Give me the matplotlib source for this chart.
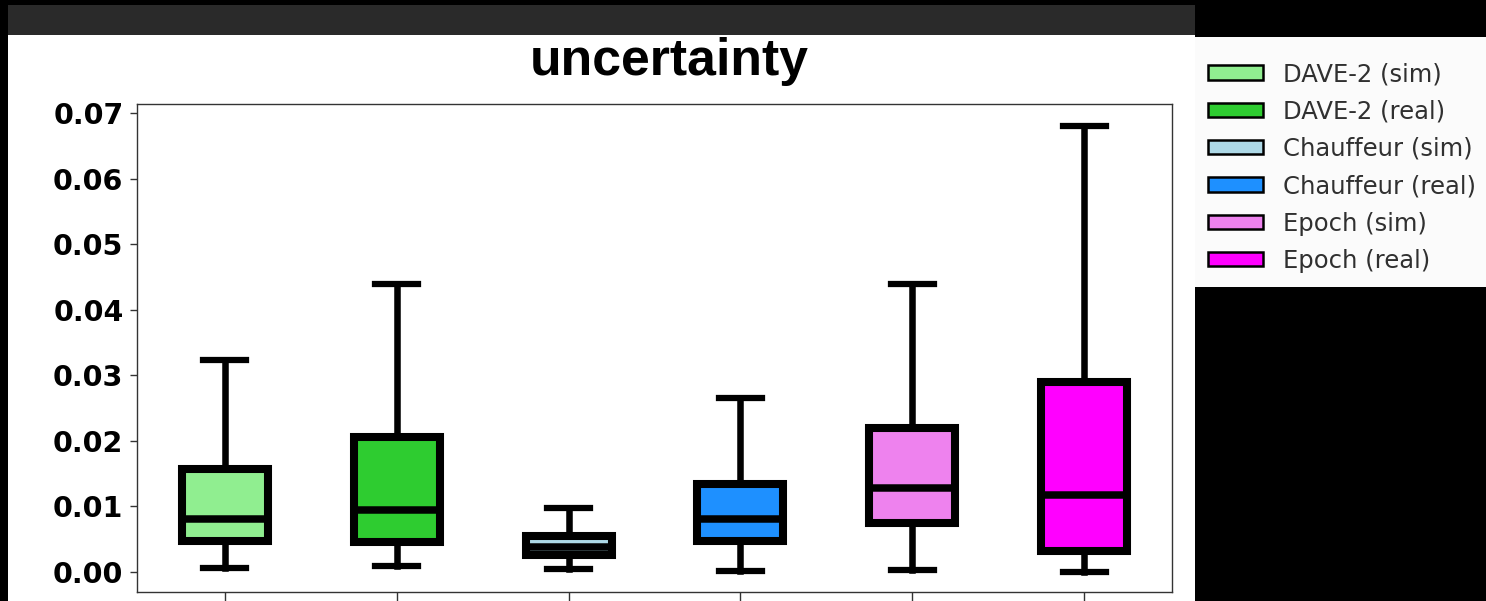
import matplotlib
matplotlib.use("Agg")
import matplotlib.pyplot as plt
from matplotlib.patches import Patch, Rectangle

plt.rcParams['font.family'] = ['DejaVu Sans']

# box stats
labels = ["DAVE-2 (sim)", "DAVE-2 (real)", "Chauffeur (sim)",
          "Chauffeur (real)", "Epoch (sim)", "Epoch (real)"]
colors = ["#90EE90", "#2ECC30", "#ADD8E6", "#1E90FF", "#EE82EE", "#FF00FF"]
whislo = [0.0006, 0.0009, 0.0004, 0.0001, 0.0002, 0.0000]
q1 = [0.0047, 0.0046, 0.0026, 0.0047, 0.0074, 0.0032]
med = [0.0080, 0.0094, 0.0037, 0.0081, 0.0128, 0.0117]
q3 = [0.0157, 0.0205, 0.0054, 0.0134, 0.0220, 0.0290]
whishi = [0.0324, 0.0439, 0.0097, 0.0265, 0.0440, 0.0680]
yticks = [0.00, 0.01, 0.02, 0.03, 0.04, 0.05, 0.06, 0.07]

W, H = 1486, 601
fig = plt.figure(figsize=(W / 100, H / 100), dpi=100, facecolor="black")

def px_rect(x0, y0, x1, y1, color):
    # rectangle given in picture pixels (origin top-left)
    fig.patches.append(Rectangle((x0 / W, 1 - y1 / H), (x1 - x0) / W, (y1 - y0) / H,
                                 transform=fig.transFigure, facecolor=color,
                                 edgecolor="none", zorder=-5))

px_rect(8, 5, 1195, 35, "#2a2a2a")
px_rect(8, 35, 1195, 601, "white")
px_rect(1195, 37, 1486, 287, "#fbfbfb")

ax = fig.add_axes([137.3 / W, 1 - 592.3 / H, (1171.7 - 137.3) / W, (592.3 - 104) / H])
ax.set_zorder(2)

stats = []
for i in range(len(labels)):
    stats.append(dict(label=labels[i], whislo=whislo[i], q1=q1[i], med=med[i],
                      q3=q3[i], whishi=whishi[i], fliers=[]))

bp = ax.bxp(stats, positions=range(1, 7), widths=0.5, patch_artist=True,
            showfliers=False,
            boxprops=dict(linewidth=5.8, edgecolor="black"),
            medianprops=dict(color="black", linewidth=5.4),
            whiskerprops=dict(color="black", linewidth=4.7),
            capprops=dict(color="black", linewidth=4.5))
for box, c in zip(bp["boxes"], colors):
    box.set_facecolor(c)

ax.set_xlim(0.49, 6.51)
ax.set_ylim(-0.00315, 0.07142)
ax.set_yticks(yticks)
ax.set_yticklabels(["%.2f" % v for v in yticks], fontsize=20.5, fontweight="bold")
ax.set_xticks(range(1, 7))
ax.set_xticklabels([])
ax.tick_params(axis="y", length=5, width=1, pad=5, colors="#333333", labelcolor="black")
ax.tick_params(axis="x", length=12, width=1, colors="#333333")
for s in ax.spines.values():
    s.set_linewidth(1)
    s.set_color("#333333")

fig.text(669 / W, 1 - 75 / H, "uncertainty", ha="center", va="baseline",
         fontsize=37.3, fontweight="bold", family=["Liberation Sans", "DejaVu Sans"])

handles = [Patch(facecolor=c, edgecolor="black", linewidth=1.8, label=l)
           for c, l in zip(colors, labels)]
leg = fig.legend(handles=handles, loc="center", bbox_to_anchor=(1342 / W, 1 - 167.5 / H),
                 frameon=False, fontsize=17.5, handlelength=2.26, handleheight=0.53,
                 handletextpad=0.8, labelspacing=0.55, borderpad=0)
for t in leg.get_texts():
    t.set_color("#303030")

fig.savefig("out.png", dpi=100, facecolor="black")
